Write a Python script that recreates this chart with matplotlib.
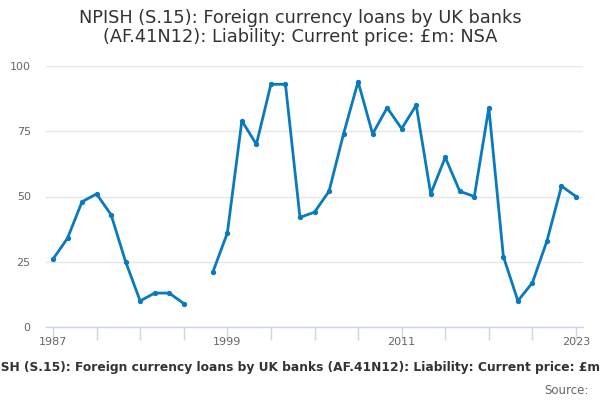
import numpy as np
import matplotlib
matplotlib.use("Agg")
import matplotlib.pyplot as plt

# Annual values, NaN where the series has no data (1997)
years = list(range(1987, 2024))
values = [26, 34, 48, 51, 43, 25, 10, 13, 13, 9,
          np.nan,
          21, 36, 79, 70, 93, 93, 42, 44, 52, 74, 94, 74, 84, 76, 85,
          51, 65, 52, 50, 84, 27, 10, 17, 33, 54, 50]
xtick_pos = list(range(1987, 2024, 3))
xtick_labels = ["1987" if y == 1987 else "1999" if y == 1999 else
                "2011" if y == 2011 else "2023" if y == 2023 else "" for y in xtick_pos]
yticks = [0, 25, 50, 75, 100]

title = "NPISH (S.15): Foreign currency loans by UK banks\n(AF.41N12): Liability: Current price: £m: NSA"
subtitle = "NPISH (S.15): Foreign currency loans by UK banks (AF.41N12): Liability: Current price: £m: NSA"

line_color = "#0a7abf"
grid_color = "#e6e6e6"
axis_color = "#ccd6eb"
text_color = "#666666"

fig = plt.figure(figsize=(6, 4), dpi=100)
ax = fig.add_axes([46 / 600, 1 - 327 / 400, 537 / 600, 261 / 400])

ax.plot(years, values, color=line_color, lw=2, marker="o", ms=2.8, zorder=3)

ax.set_xlim(1986.52, 2023.48)
ax.set_ylim(0, 100)
ax.set_yticks(yticks)
ax.set_yticklabels([str(v) for v in yticks])
ax.set_xticks(xtick_pos)
ax.set_xticklabels(xtick_labels)

ax.grid(axis="y", color=grid_color, lw=1)
ax.set_axisbelow(True)
for s in ["top", "right", "left"]:
    ax.spines[s].set_visible(False)
ax.spines["bottom"].set_color(axis_color)
ax.spines["bottom"].set_linewidth(1)
ax.tick_params(axis="x", colors=axis_color, length=9, width=1, labelcolor=text_color,
               labelsize=8, pad=-2)
ax.tick_params(axis="y", length=0, labelcolor=text_color, labelsize=8, pad=11)

fig.text(0.5, 0.978, title, ha="center", va="top", fontsize=12.8, color="#333333",
         linespacing=1.1)
# long bottom caption, clipped at both edges as in the original
fig.text(0.512, 1 - 367 / 400, subtitle, ha="center", va="center", fontsize=8.8,
         fontweight="bold", color="#333333")
fig.text(589 / 600, 1 - 390 / 400, "Source:", ha="right", va="center", fontsize=8.5,
         color=text_color)

fig.savefig("out.png", dpi=100)
